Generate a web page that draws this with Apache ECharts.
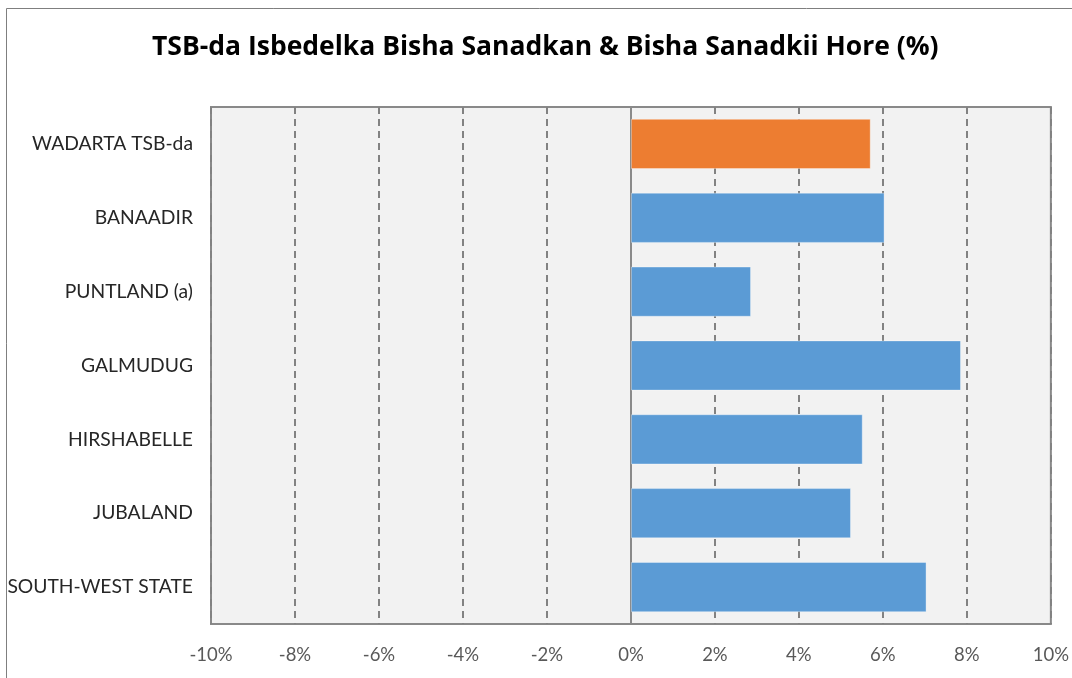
<!DOCTYPE html>
<html>
<head>
<meta charset="utf-8">
<script src="https://cdn.jsdelivr.net/npm/echarts@6/dist/echarts.min.js"></script>
<style>
  html, body { margin: 0; padding: 0; background: #fff; }
  #chart { width: 1072px; height: 678px; }
</style>
</head>
<body>
<div id="chart"></div>
<script>
// regions, top to bottom as drawn
var regions = ['WADARTA TSB-da', 'BANAADIR', 'PUNTLAND (a)', 'GALMUDUG', 'HIRSHABELLE', 'JUBALAND', 'SOUTH-WEST STATE'];
// change in %, same order
var changes = [5.71, 6.04, 2.86, 7.86, 5.52, 5.24, 7.04];
var barColors = ['#ED7D31', '#5B9BD5', '#5B9BD5', '#5B9BD5', '#5B9BD5', '#5B9BD5', '#5B9BD5'];
var titleText = 'TSB-da Isbedelka Bisha Sanadkan & Bisha Sanadkii Hore (%)';

var fontName = 'Lato';

var chart = echarts.init(document.getElementById('chart'));

var barData = [];
for (var i = 0; i < changes.length; i++) {
    barData.push({
        value: changes[i],
        itemStyle: { color: barColors[i] }
    });
}

var option = {
    animation: false,
    backgroundColor: '#fff',
    title: {
        text: titleText,
        left: 147,
        top: 29,
        textStyle: { fontFamily: 'Open Sans', fontSize: 26.5, fontWeight: 'bold', color: '#000' }
    },
    graphic: [
        {
            // outer chart frame (left and top edges visible)
            type: 'rect',
            shape: { x: 6.5, y: 8.5, width: 1100, height: 700 },
            style: { fill: 'none', stroke: '#7f7f7f', lineWidth: 1 },
            silent: true
        }
    ],
    grid: {
        left: 211,
        right: 20,
        top: 107,
        bottom: 54,
        show: true,
        backgroundColor: '#F2F2F2',
        borderColor: '#898989',
        borderWidth: 2
    },
    xAxis: {
        type: 'value',
        min: -10,
        max: 10,
        interval: 2,
        axisLine: { show: false },
        axisTick: { show: false },
        axisLabel: {
            formatter: '{value}%',
            fontFamily: fontName,
            fontSize: 18.5,
            color: '#595959',
            margin: 22
        },
        splitLine: {
            show: true,
            lineStyle: { color: '#828282', width: 2, type: [7, 5] }
        }
    },
    yAxis: {
        type: 'category',
        data: regions,
        inverse: true,
        axisLine: { show: true, onZero: true, lineStyle: { color: '#8a8a8a', width: 2 } },
        axisTick: { show: false },
        axisLabel: {
            fontFamily: fontName,
            fontSize: 19.3,
            color: '#262626',
            margin: 18
        }
    },
    series: [
        {
            type: 'bar',
            data: barData,
            barCategoryGap: '32%',
            itemStyle: { borderColor: 'rgba(255,255,255,0.35)', borderWidth: 1 }
        }
    ]
};

chart.setOption(option);
</script>
</body>
</html>
